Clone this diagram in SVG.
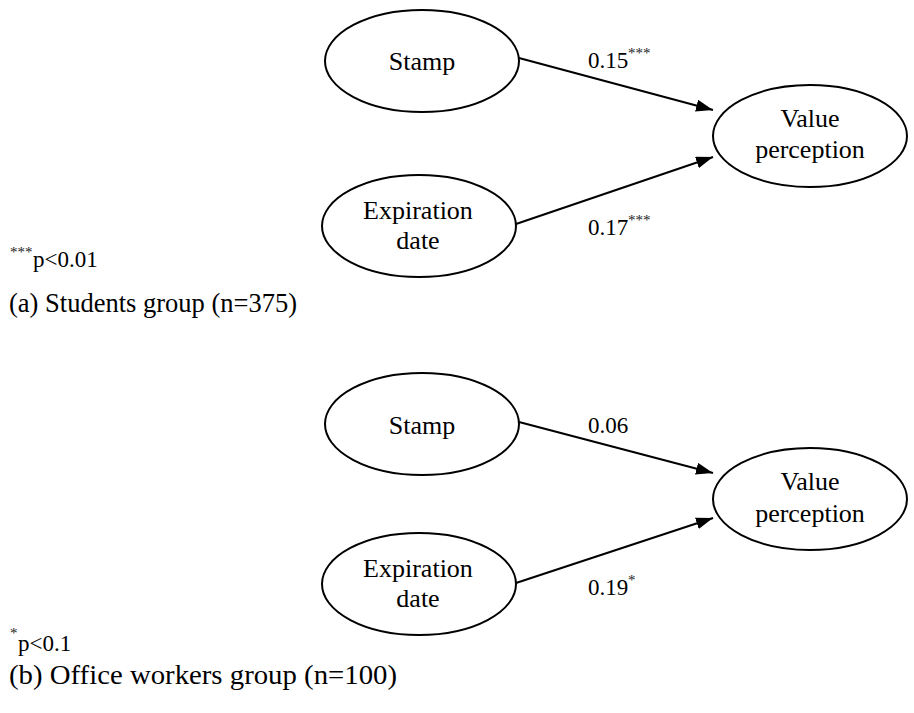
<svg xmlns="http://www.w3.org/2000/svg" width="914" height="713" viewBox="0 0 914 713">
<style>
text{font-family:'Liberation Serif','Times New Roman','DejaVu Serif',serif}
.node ellipse{fill:#fff;stroke:#000;stroke-width:2}
.nt{font-size:26px;text-anchor:middle;fill:#000}
.lbl{font-size:23px;fill:#000}
.sup{font-size:15px;fill:#222}
.leg{font-size:27px;fill:#000}
.edge{stroke:#000;stroke-width:2;fill:none;marker-end:url(#arr)}
</style>
<defs>
<marker id="arr" markerUnits="userSpaceOnUse" markerWidth="18" markerHeight="12" refX="17" refY="6" orient="auto">
<path d="M0,0 L17,6 L0,12 z" fill="#000"/>
</marker>
</defs>
<rect width="914" height="713" fill="#fff"/>
<g id="connectors">
<line class="edge" x1="519" y1="58" x2="713" y2="110"/>
<line class="edge" x1="516" y1="224" x2="713" y2="157"/>
<line class="edge" x1="519" y1="422" x2="713" y2="473"/>
<line class="edge" x1="516" y1="583" x2="713" y2="518"/>
</g>
<g id="stamp-a" class="node"><ellipse cx="422" cy="61" rx="97" ry="51"/><text class="nt" x="422" y="70">Stamp</text></g>
<g id="expiration-a" class="node"><ellipse cx="419" cy="226" rx="97" ry="51"/><text class="nt" x="418" y="219">Expiration</text><text class="nt" x="418" y="249">date</text></g>
<g id="value-a" class="node"><ellipse cx="810" cy="136" rx="97" ry="51"/><text class="nt" x="810" y="127">Value</text><text class="nt" x="810" y="158">perception</text></g>
<g id="stamp-b" class="node"><ellipse cx="422" cy="424" rx="97" ry="51"/><text class="nt" x="422" y="434">Stamp</text></g>
<g id="expiration-b" class="node"><ellipse cx="419" cy="584" rx="97" ry="51"/><text class="nt" x="418" y="577">Expiration</text><text class="nt" x="418" y="607">date</text></g>
<g id="value-b" class="node"><ellipse cx="810" cy="499" rx="97" ry="51"/><text class="nt" x="810" y="490">Value</text><text class="nt" x="810" y="522">perception</text></g>
<g id="labels">
<text class="lbl" x="588" y="68">0.15</text><text class="sup" x="628" y="58">***</text>
<text class="lbl" x="588" y="235">0.17</text><text class="sup" x="628" y="225">***</text>
<text class="lbl" x="588" y="433">0.06</text>
<text class="lbl" x="588" y="595">0.19</text><text class="sup" x="628" y="585">*</text>
</g>
<g id="legend">
<text class="sup" x="10" y="257">***</text><text class="lbl" x="33" y="267">p&lt;0.01</text>
<text class="leg" x="9" y="312" textLength="288" lengthAdjust="spacingAndGlyphs">(a) Students group (n=375)</text>
<text class="sup" x="10" y="638">*</text><text class="lbl" x="18" y="651">p&lt;0.1</text>
<text class="leg" x="9" y="684" textLength="388" lengthAdjust="spacingAndGlyphs">(b) Office workers group (n=100)</text>
</g>
</svg>
